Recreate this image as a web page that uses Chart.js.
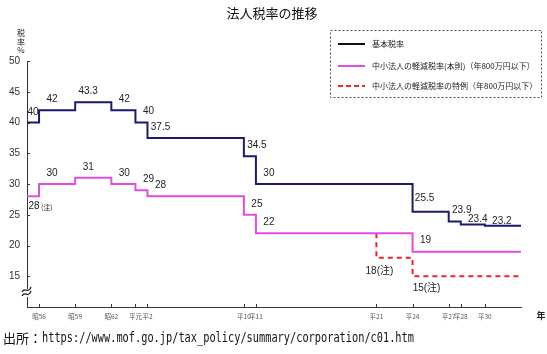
<!DOCTYPE html>
<html>
<head>
<meta charset="utf-8">
<script src="https://cdn.jsdelivr.net/npm/chart.js@4/dist/chart.umd.min.js"></script>
<style>
  html, body { margin: 0; padding: 0; background: #fff; }
  #wrap { position: relative; width: 547px; height: 354px; }
  #source { position: absolute; left: 3px; top: 327px; white-space: nowrap; color: #111; }
  #source .jp { font: 13px "Noto Sans CJK JP"; vertical-align: middle; }
  #source .url { font: 10.3px "DejaVu Sans Mono"; display: inline-block; transform: scaleY(1.35); vertical-align: middle; }
</style>
</head>
<body>
<div id="wrap">
  <canvas id="taxChart" width="547" height="354"></canvas>
  <div id="source"><span class="jp">出所：</span><span class="url">https://www.mof.go.jp/tax_policy/summary/corporation/c01.htm</span></div>
</div>
<script>
// data
const basicYears = [1980, 1981, 1984, 1987, 1989, 1990, 1998, 1999, 2012, 2015, 2016, 2018, 2021];
const basicRate  = [40, 42, 43.3, 42, 40, 37.5, 34.5, 30, 25.5, 23.9, 23.4, 23.2, 23.2];
const basicLabels = ["40", "42", "43.3", "42", "40", "37.5", "34.5", "30", "25.5", "23.9", "23.4", "23.2", ""];

const smeYears = [1980, 1981, 1984, 1987, 1989, 1990, 1998, 1999, 2012, 2021];
const smeRate  = [28, 30, 31, 30, 29, 28, 25, 22, 19, 19];
const smeLabels = ["28", "30", "31", "30", "29", "28", "25", "22", "19", ""];

const specialYears = [2009, 2009, 2012, 2021];
const specialRate  = [22, 18, 15, 15];
const specialLabels = ["", "18(注)", "15(注)", ""];

const tickYears = [1981, 1984, 1987, 1989, 1990, 1998, 1999, 2009, 2012, 2015, 2016, 2018];
const tickNames = ["昭56", "昭59", "昭62", "平元", "平2", "平10", "平11", "平21", "平24", "平27", "平28", "平30"];

const seriesNames = ["基本税率", "中小法人の軽減税率(本則)（年800万円以下）", "中小法人の軽減税率の特例（年800万円以下）"];

const NAVY = "#1b1b6e", PINK = "#e24de2", RED = "#e8262b";
const JP = '"Noto Sans CJK JP"';

const toPts = (xs, ys) => xs.map((x, i) => ({ x: x, y: ys[i] }));

// label nudges (px) for crowded spots
function labelOffset(ds, i) {
  if (ds === 0 && i === 0) return [6, -10];
  if (ds === 0 && (i === 10 || i === 11)) return [17, -5];
  if (ds === 0 && i === 8) return [12, -13];
  if (ds === 1 && i === 0) return [7, 10];
  if (ds === 2 && i === 1) return [3, 13];
  if (ds === 2 && i === 2) return [14, 12];
  return [13, -11];
}

const decor = {
  id: "decor",
  afterDraw(chart) {
    const ctx = chart.ctx;
    const xs = chart.scales.x, ys = chart.scales.y;
    const a = chart.chartArea;
    ctx.save();

    // title
    ctx.fillStyle = "#111";
    ctx.textAlign = "center";
    ctx.textBaseline = "middle";
    ctx.font = "13px " + JP;
    ctx.fillText("法人税率の推移", 272, 13);

    // y axis title
    ctx.font = "8px " + JP;
    ctx.fillStyle = "#222";
    ctx.fillText("税", 21, 33);
    ctx.fillText("率", 21, 42);
    ctx.fillText("%", 21, 50);

    // x unit
    ctx.font = "bold 9px " + JP;
    ctx.fillText("年", 541, 316);

    // inner tick marks
    ctx.strokeStyle = "#333";
    ctx.lineWidth = 1;
    ctx.beginPath();
    ys.ticks.forEach(t => {
      if (t.value < 15) return;
      const y = Math.round(ys.getPixelForValue(t.value)) + 0.5;
      ctx.moveTo(a.left, y);
      ctx.lineTo(a.left + 3, y);
    });
    tickYears.forEach(yr => {
      const x = Math.round(xs.getPixelForValue(yr)) + 0.5;
      ctx.moveTo(x, a.bottom);
      ctx.lineTo(x, a.bottom - 3);
    });
    ctx.stroke();

    // axis break
    ctx.fillStyle = "#fff";
    ctx.fillRect(a.left - 2, 289, 4, 8);
    ctx.strokeStyle = "#222";
    ctx.lineWidth = 1.3;
    [0, 4].forEach(d => {
      ctx.beginPath();
      ctx.moveTo(a.left - 5, 292 + d);
      ctx.bezierCurveTo(a.left - 2, 286 + d, a.left + 1, 295 + d, a.left + 4, 287 + d);
      ctx.stroke();
    });

    // value labels
    ctx.fillStyle = "#222";
    ctx.textBaseline = "middle";
    const allLabels = [basicLabels, smeLabels, specialLabels];
    chart.data.datasets.forEach((ds, di) => {
      ds.data.forEach((p, i) => {
        const txt = allLabels[di][i];
        if (!txt) return;
        const [dx, dy] = labelOffset(di, i);
        const x = xs.getPixelForValue(p.x) + dx;
        const y = ys.getPixelForValue(p.y) + dy;
        ctx.textAlign = "center";
        ctx.font = '10px "Liberation Sans", ' + JP;
        ctx.fillText(txt, x, y);
        if (di === 1 && i === 0) {
          ctx.textAlign = "left";
          ctx.font = "7px " + JP;
          ctx.fillText("(注)", x + 7, y + 1);
        }
      });
    });

    // legend box
    ctx.strokeStyle = "#555";
    ctx.lineWidth = 1;
    ctx.setLineDash([2, 2]);
    ctx.strokeRect(330.5, 30.5, 211, 67);
    const rowsY = [44, 66, 86];
    const cols = ["#111", PINK, RED];
    rowsY.forEach((y, i) => {
      ctx.strokeStyle = cols[i];
      ctx.lineWidth = 2;
      ctx.setLineDash(i === 2 ? [5, 3] : []);
      ctx.beginPath();
      ctx.moveTo(338, y);
      ctx.lineTo(365, y);
      ctx.stroke();
      ctx.setLineDash([]);
      ctx.fillStyle = "#222";
      ctx.textAlign = "left";
      ctx.font = "8px " + JP;
      ctx.fillText(seriesNames[i], 372, y);
    });
    ctx.restore();
  }
};

const ctx = document.getElementById("taxChart").getContext("2d");
new Chart(ctx, {
  type: "line",
  data: {
    datasets: [
      { label: seriesNames[0], data: toPts(basicYears, basicRate), borderColor: NAVY, borderWidth: 2, stepped: true, pointRadius: 0 },
      { label: seriesNames[1], data: toPts(smeYears, smeRate), borderColor: PINK, borderWidth: 2, stepped: true, pointRadius: 0 },
      { label: seriesNames[2], data: toPts(specialYears, specialRate), borderColor: RED, borderWidth: 2, borderDash: [5, 4], stepped: true, pointRadius: 0 }
    ]
  },
  options: {
    responsive: false,
    animation: false,
    events: [],
    layout: { padding: { left: 0, top: 61, right: 26, bottom: 0 } },
    plugins: { legend: { display: false }, title: { display: false }, tooltip: { enabled: false } },
    scales: {
      x: {
        type: "linear",
        min: 1980,
        max: 2021,
        afterFit: s => { s.height = 47; },
        afterBuildTicks: s => { s.ticks = tickYears.map(v => ({ value: v })); },
        grid: { display: false, drawTicks: false },
        border: { color: "#333", width: 1 },
        ticks: {
          autoSkip: false,
          maxRotation: 0,
          padding: 6,
          color: "#555",
          font: { size: 6.5, family: "Noto Sans CJK JP" },
          callback: v => tickNames[tickYears.indexOf(v)]
        }
      },
      y: {
        min: 10,
        max: 50,
        afterFit: s => { s.width = 27; },
        grid: { display: false, drawTicks: false },
        border: { color: "#333", width: 1 },
        ticks: {
          stepSize: 5,
          padding: 7,
          color: "#333",
          font: { size: 10, family: "Liberation Sans" },
          callback: v => (v < 15 ? "" : v)
        }
      }
    }
  },
  plugins: [decor]
});
</script>
</body>
</html>
